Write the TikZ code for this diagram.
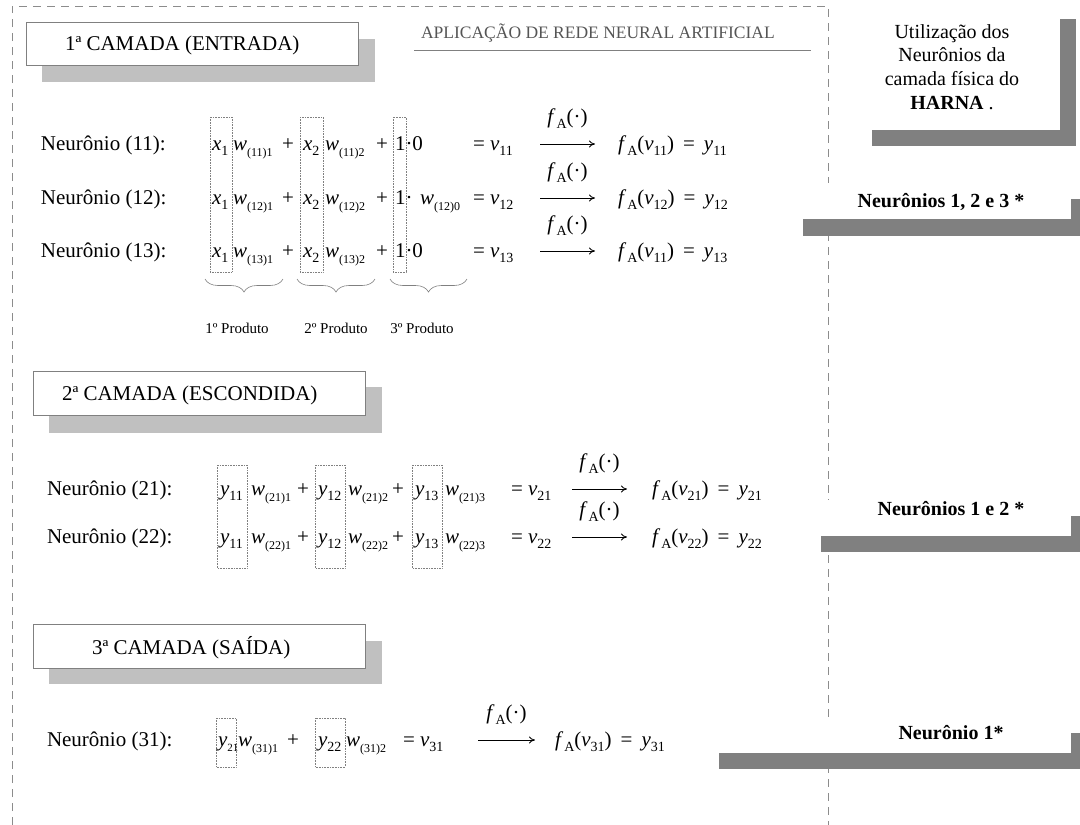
\documentclass[tikz,border=0pt]{standalone}
\usepackage{fontspec}
\setmainfont{Liberation Serif}
\usetikzlibrary{decorations.pathreplacing,arrows.meta}
\definecolor{shadelight}{HTML}{C0C0C0}
\definecolor{shadedark}{HTML}{808080}
\definecolor{framegray}{HTML}{8C8C8C}
\definecolor{titlegray}{HTML}{555555}
% italic variable with lowered subscripts, set in text fonts
\newcommand\vr[1]{\textit{#1}}
\newcommand\sbs[1]{\raisebox{-5pt}{\fontsize{14}{14}\selectfont #1}}
\newcommand\sbt[1]{\raisebox{-5pt}{\fontsize{11}{11}\selectfont #1}}
\newcommand\sbw[1]{\raisebox{-6pt}{\fontsize{12}{12}\selectfont #1}}
\newcommand\fAct{\vr{f}\hspace{1pt}\sbs{A}(·)}
\newcommand\fAof[1]{\vr{f}\hspace{1pt}\sbs{A}(\vr{v}\sbs{#1})}
\newcommand\eqsp{\hspace{9pt}=\hspace{9pt}}
\begin{document}
\begin{tikzpicture}[x=1pt,y=-1pt,
  every node/.style={inner sep=0pt,outer sep=0pt},
  txt/.style={anchor=base west,font=\fontsize{21}{25}\selectfont},
  smalltxt/.style={font=\fontsize{15}{17}\selectfont},
  boldtxt/.style={font=\fontsize{20}{24}\selectfont\bfseries},
  framedash/.style={draw=framegray,line width=0.9pt,dash pattern=on 8pt off 6pt},
  layerbox/.style={draw=shadedark,fill=white,line width=0.8pt},
  layershadow/.style={fill=shadelight},
  darkshadow/.style={fill=shadedark},
  prodbox/.style={draw=gray,densely dotted,line width=0.6pt},
  bracedown/.style={draw=gray,line width=0.6pt,decorate,decoration={brace,mirror,amplitude=13pt}},
  mapsto/.style={-{To[length=6pt,width=7pt]},line width=0.8pt},
  arrowlabel/.style={above=16pt,font=\fontsize{21}{25}\selectfont}
]
\useasboundingbox (0,0) rectangle (1080,825);

% dashed frame around the network
\draw[framedash] (12,825) -- (12,6) -- (828,6) -- (828,825);

% heading
\node[anchor=west,text=titlegray,font=\fontsize{17.5}{20}\selectfont] (title) at (421,33) {APLICAÇÃO DE REDE NEURAL ARTIFICIAL};
\draw[shadedark,line width=0.8pt] (414,50) -- (811,50);

% right-hand panels (shadowed white boxes)
\fill[darkshadow] (872,19) rectangle (1076,146);
\fill[white] (856,3) rectangle (1060,130);
\node[align=center,font=\fontsize{20}{23.6}\selectfont] (harna) at (952,67)
  {Utilização dos\\Neurônios da\\camada física do\\\textbf{HARNA} .};

\fill[darkshadow] (803,199) rectangle (1087,236);
\fill[white] (787,183) rectangle (1071,219);
\node[boldtxt] (use1) at (941,202) {Neurônios 1, 2 e 3 *};

\fill[darkshadow] (821,516) rectangle (1087,552);
\fill[white] (805,500) rectangle (1071,536);
\node[boldtxt] (use2) at (951,509) {Neurônios 1 e 2 *};

\fill[darkshadow] (719,733) rectangle (1087,769);
\fill[white] (703,717) rectangle (1071,753);
\node[boldtxt] (use3) at (951,733) {Neurônio 1*};

% layer headers
\fill[layershadow] (42,39) rectangle (375,82);
\draw[layerbox] (26,22) rectangle (358,65);
\node[anchor=west,font=\fontsize{21}{25}\selectfont] (lay1) at (65,45) {1ª CAMADA (ENTRADA)};

\fill[layershadow] (49,387) rectangle (382,433);
\draw[layerbox] (33,371) rectangle (365,415);
\node[anchor=west,font=\fontsize{21}{25}\selectfont] (lay2) at (62,395) {2ª CAMADA (ESCONDIDA)};

\fill[layershadow] (49,641) rectangle (382,684);
\draw[layerbox] (33,624) rectangle (365,668);
\node[anchor=west,font=\fontsize{21}{25}\selectfont] (lay3) at (92,648) {3ª CAMADA (SAÍDA)};

% ---------- layer 1 ----------
\draw[prodbox] (210,117) rectangle (232,272);
\draw[prodbox] (300,117) rectangle (323,272);
\draw[prodbox] (393,117) rectangle (406,272);

\node[txt] (n11) at (41,150) {Neurônio (11):};
\node[txt] (a11) at (212,150) {\vr{x}\sbs{1}};
\node[txt] (b11) at (233,150) {\vr{w}\sbw{(11)1}};
\node[txt] (c11) at (282,150) {+};
\node[txt] (d11) at (303,150) {\vr{x}\sbs{2}};
\node[txt] (e11) at (325,150) {\vr{w}\sbw{(11)2}};
\node[txt] (f11) at (376,150) {+};
\node[txt] (g11) at (395,150) {1·0};
\node[txt] (v11) at (473,150) {= \vr{v}\sbs{11}};
\node[txt] (r11) at (618,150) {\fAof{11}\eqsp\vr{y}\sbs{11}};
\coordinate (s11) at (540,144);
\coordinate (t11) at (595,144);
\draw[mapsto] (s11) -- node[arrowlabel] (l11) {\fAct} (t11);

\node[txt] (n12) at (41,204) {Neurônio (12):};
\node[txt] (a12) at (212,204) {\vr{x}\sbs{1}};
\node[txt] (b12) at (233,204) {\vr{w}\sbw{(12)1}};
\node[txt] (c12) at (282,204) {+};
\node[txt] (d12) at (303,204) {\vr{x}\sbs{2}};
\node[txt] (e12) at (325,204) {\vr{w}\sbw{(12)2}};
\node[txt] (f12) at (376,204) {+};
\node[txt] (g12) at (395,204) {1·};
\node[txt] (h12) at (420,204) {\vr{w}\sbw{(12)0}};
\node[txt] (v12) at (473,204) {= \vr{v}\sbs{12}};
\node[txt] (r12) at (618,204) {\fAof{12}\eqsp\vr{y}\sbs{12}};
\coordinate (s12) at (540,198);
\coordinate (t12) at (595,198);
\draw[mapsto] (s12) -- node[arrowlabel] (l12) {\fAct} (t12);

\node[txt] (n13) at (41,257) {Neurônio (13):};
\node[txt] (a13) at (212,257) {\vr{x}\sbs{1}};
\node[txt] (b13) at (233,257) {\vr{w}\sbw{(13)1}};
\node[txt] (c13) at (282,257) {+};
\node[txt] (d13) at (303,257) {\vr{x}\sbs{2}};
\node[txt] (e13) at (325,257) {\vr{w}\sbw{(13)2}};
\node[txt] (f13) at (376,257) {+};
\node[txt] (g13) at (395,257) {1·0};
\node[txt] (v13) at (473,257) {= \vr{v}\sbs{13}};
\node[txt] (r13) at (618,257) {\fAof{11}\eqsp\vr{y}\sbs{13}};
\coordinate (s13) at (540,251);
\coordinate (t13) at (595,251);
\draw[mapsto] (s13) -- node[arrowlabel] (l13) {\fAct} (t13);

% products under braces
\draw[bracedown] (205,279) -- (283,279);
\draw[bracedown] (297,279) -- (375,279);
\draw[bracedown] (390,279) -- (467,279);
\node[smalltxt] (q1) at (237,328) {1º Produto};
\node[smalltxt] (q2) at (336,328) {2º Produto};
\node[smalltxt] (q3) at (422,328) {3º Produto};

% ---------- layer 2 ----------
\draw[prodbox] (217,465) rectangle (247,568);
\draw[prodbox] (315,465) rectangle (345,568);
\draw[prodbox] (412,465) rectangle (442,568);

\node[txt] (n21) at (47,495) {Neurônio (21):};
\node[txt] (a21) at (220,495) {\vr{y}\sbs{11}};
\node[txt] (b21) at (251,495) {\vr{w}\sbw{(21)1}};
\node[txt] (c21) at (297,495) {+};
\node[txt] (d21) at (318,495) {\vr{y}\sbs{12}};
\node[txt] (e21) at (348,495) {\vr{w}\sbw{(21)2}};
\node[txt] (f21) at (392,495) {+};
\node[txt] (g21) at (415,495) {\vr{y}\sbs{13}};
\node[txt] (h21) at (445,495) {\vr{w}\sbw{(21)3}};
\node[txt] (v21) at (511,495) {= \vr{v}\sbs{21}};
\node[txt] (r21) at (652,495) {\fAof{21}\eqsp\vr{y}\sbs{21}};
\coordinate (s21) at (572,489);
\coordinate (t21) at (627,489);
\draw[mapsto] (s21) -- node[arrowlabel] (l21) {\fAct} (t21);

\node[txt] (n22) at (47,543) {Neurônio (22):};
\node[txt] (a22) at (220,543) {\vr{y}\sbs{11}};
\node[txt] (b22) at (251,543) {\vr{w}\sbw{(22)1}};
\node[txt] (c22) at (297,543) {+};
\node[txt] (d22) at (318,543) {\vr{y}\sbs{12}};
\node[txt] (e22) at (348,543) {\vr{w}\sbw{(22)2}};
\node[txt] (f22) at (392,543) {+};
\node[txt] (g22) at (415,543) {\vr{y}\sbs{13}};
\node[txt] (h22) at (445,543) {\vr{w}\sbw{(22)3}};
\node[txt] (v22) at (511,543) {= \vr{v}\sbs{22}};
\node[txt] (r22) at (652,543) {\fAof{22}\eqsp\vr{y}\sbs{22}};
\coordinate (s22) at (572,537);
\coordinate (t22) at (627,537);
\draw[mapsto] (s22) -- node[arrowlabel] (l22) {\fAct} (t22);

% ---------- layer 3 ----------
\draw[prodbox] (216,718) rectangle (236,767);
\draw[prodbox] (315,718) rectangle (345,767);

\node[txt] (n31) at (47,746) {Neurônio (31):};
\node[txt] (a31) at (218,746) {\vr{y}\sbt{21}};
\node[txt] (b31) at (238,746) {\vr{w}\sbw{(31)1}};
\node[txt] (c31) at (287,746) {+};
\node[txt] (d31) at (318,746) {\vr{y}\sbs{22}};
\node[txt] (e31) at (346,746) {\vr{w}\sbw{(31)2}};
\node[txt] (v31) at (403,746) {= \vr{v}\sbs{31}};
\node[txt] (r31) at (555,746) {\fAof{31}\eqsp\vr{y}\sbs{31}};
\coordinate (s31) at (478,740);
\coordinate (t31) at (535,740);
\draw[mapsto] (s31) -- node[arrowlabel] (l31) {\fAct} (t31);
\end{tikzpicture}
\end{document}
